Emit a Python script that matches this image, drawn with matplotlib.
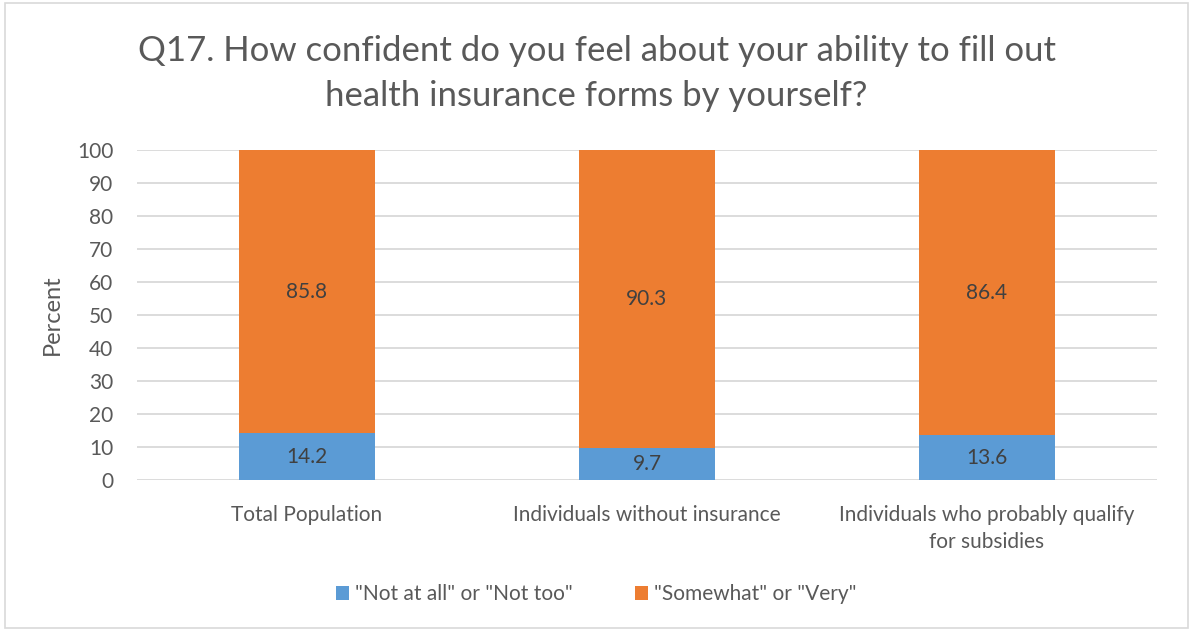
import matplotlib
matplotlib.use("Agg")
import matplotlib.pyplot as plt
from matplotlib.patches import Rectangle

categories = ["Total Population", "Individuals without insurance",
              "Individuals who probably qualify\nfor subsidies"]
not_confident = [14.2, 9.7, 13.6]
confident = [85.8, 90.3, 86.4]
series_names = ['"Not at all" or "Not too"', '"Somewhat" or "Very"']
yticks = list(range(0, 101, 10))

BLUE = "#5b9bd5"
ORANGE = "#ed7d31"
TEXT = "#595959"
LABEL = "#404040"
GRID = "#d9d9d9"

plt.rcParams["font.family"] = ["Lato", "DejaVu Sans"]

fig = plt.figure(figsize=(11.93, 6.31), dpi=100)
fig.patches.append(Rectangle((0.004, 0.004), 0.992, 0.992, transform=fig.transFigure,
                             fill=False, edgecolor="#d9d9d9", linewidth=1.2))

ax = fig.add_axes([0.1148, 0.2393, 0.855, 0.5230])
x = list(range(len(categories)))
b1 = ax.bar(x, not_confident, width=0.4, color=BLUE, label=series_names[0], zorder=3)
b2 = ax.bar(x, confident, width=0.4, bottom=not_confident, color=ORANGE,
            label=series_names[1], zorder=3)

for xi, v in zip(x, not_confident):
    ax.text(xi, v / 2, f"{v:.1f}", ha="center", va="center", fontsize=15, color=LABEL, zorder=4)
for xi, b, v in zip(x, not_confident, confident):
    ax.text(xi, b + v / 2, f"{v:.1f}", ha="center", va="center", fontsize=15, color=LABEL, zorder=4)

ax.set_xlim(-0.5, 2.5)
ax.set_ylim(0, 100)
ax.set_yticks(yticks)
ax.set_xticks(x)
ax.set_xticklabels(categories, fontsize=15, color=TEXT, linespacing=1.45)
ax.tick_params(axis="y", labelsize=15, labelcolor=TEXT, length=0, pad=17)
ax.tick_params(axis="x", length=0, pad=18)
ax.yaxis.grid(True, color=GRID, linewidth=1.3, zorder=0)
for s in ax.spines.values():
    s.set_visible(False)
ax.set_ylabel("Percent", fontsize=17, color=TEXT, labelpad=10)

fig.text(0.5, 0.883, "Q17. How confident do you feel about your ability to fill out\nhealth insurance forms by yourself?",
         ha="center", va="center", fontsize=25, color=TEXT, linespacing=1.5,
         family=["Lato", "DejaVu Sans"])

fig.legend(handles=[b1, b2], labels=series_names, loc="center", bbox_to_anchor=(0.5, 0.058),
           ncol=2, frameon=False, fontsize=15, labelcolor=TEXT, handlelength=0.6,
           handleheight=0.6, handletextpad=0.3, columnspacing=3.0)

fig.savefig("out.png", dpi=100)
